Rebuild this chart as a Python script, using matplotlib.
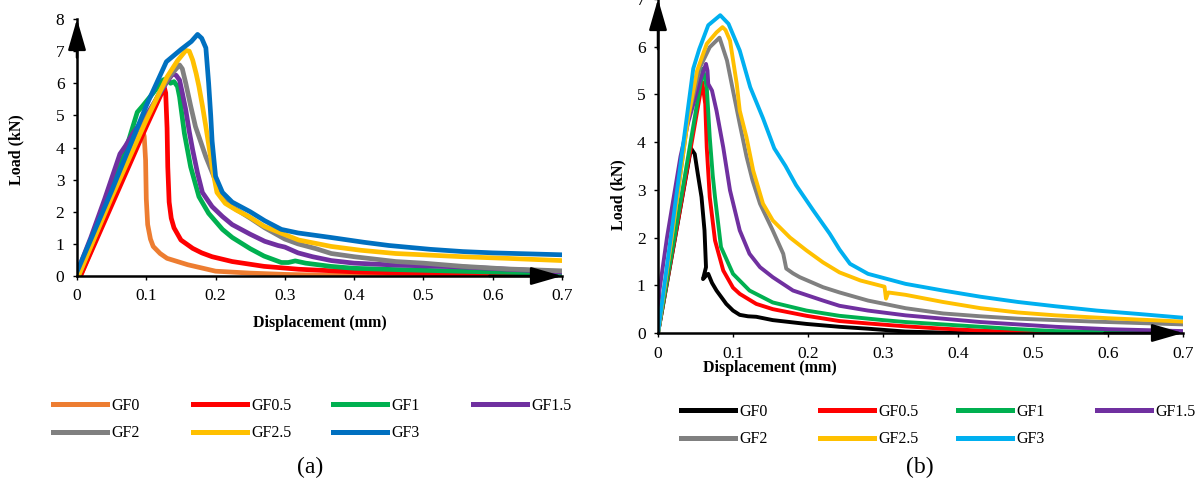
import numpy as np
import matplotlib
matplotlib.use("Agg")
import matplotlib.pyplot as plt
from matplotlib.lines import Line2D

plt.rcParams['font.family'] = ['Liberation Serif', 'DejaVu Serif']

#series names, same for both panels
labels = ['GF0', 'GF0.5', 'GF1', 'GF1.5', 'GF2', 'GF2.5', 'GF3']

#panel (a) colours, panel (b) uses black for GF0 and light blue for GF3
colors_a = ['#ED7D31', '#FF0000', '#00B050', '#7030A0', '#808080', '#FFC000', '#0070C0']
colors_b = ['#000000', '#FF0000', '#00B050', '#7030A0', '#808080', '#FFC000', '#00B0F0']

xticks = [0, 0.1, 0.2, 0.3, 0.4, 0.5, 0.6, 0.7]
xtick_labels = ['0', '0.1', '0.2', '0.3', '0.4', '0.5', '0.6', '0.7']

#---------------- panel (a): displacement (mm), load (kN) ----------------#
a_gf0_x = [0.005, 0.03, 0.06, 0.08, 0.094, 0.097, 0.099, 0.1, 0.102, 0.106, 0.11, 0.12, 0.13,
           0.145, 0.16, 0.18, 0.2, 0.25, 0.3, 0.35, 0.4, 0.5, 0.6, 0.7]
a_gf0_y = [0, 1.29, 2.84, 3.88, 4.6, 4.35, 3.6, 2.4, 1.6, 1.15, 0.92, 0.7, 0.55,
           0.45, 0.35, 0.25, 0.15, 0.09, 0.05, 0.03, 0.02, 0.01, 0.0, 0.0]

a_gf05_x = [0.005, 0.05, 0.1, 0.126, 0.128, 0.13, 0.131, 0.133, 0.136, 0.14, 0.15, 0.167, 0.18,
            0.195, 0.224, 0.27, 0.32, 0.37, 0.41, 0.46, 0.55, 0.65, 0.7]
a_gf05_y = [0, 2.2, 4.65, 5.87, 5.7, 4.6, 3.4, 2.3, 1.8, 1.5, 1.12, 0.86, 0.72,
            0.6, 0.45, 0.3, 0.21, 0.16, 0.12, 0.1, 0.06, 0.03, 0.02]

a_gf1_x = [0.002, 0.04, 0.07, 0.087, 0.095, 0.11, 0.124, 0.13, 0.135, 0.14, 0.145, 0.148, 0.155,
           0.164, 0.176, 0.19, 0.21, 0.224, 0.25, 0.27, 0.295, 0.305, 0.315, 0.33, 0.366, 0.4,
           0.46, 0.55, 0.65, 0.7]
a_gf1_y = [0, 2.1, 3.9, 5.1, 5.3, 5.7, 6.1, 6.15, 6.0, 6.05, 5.9, 5.58, 4.44,
           3.4, 2.47, 1.95, 1.45, 1.2, 0.85, 0.62, 0.42, 0.42, 0.47, 0.4, 0.3, 0.24,
           0.2, 0.15, 0.1, 0.07]

a_gf15_x = [0, 0.02, 0.04, 0.062, 0.07, 0.081, 0.1, 0.114, 0.13, 0.138, 0.143, 0.148, 0.152,
            0.157, 0.162, 0.167, 0.174, 0.181, 0.195, 0.21, 0.224, 0.25, 0.271, 0.29, 0.3,
            0.319, 0.34, 0.367, 0.4, 0.46, 0.557, 0.65, 0.7]
a_gf15_y = [0.1, 1.2, 2.4, 3.8, 4.05, 4.45, 5.0, 5.48, 6.05, 6.29, 6.25, 6.1, 5.7,
            5.17, 4.5, 3.92, 3.2, 2.6, 2.16, 1.85, 1.6, 1.3, 1.08, 0.95, 0.9,
            0.72, 0.6, 0.48, 0.4, 0.34, 0.28, 0.18, 0.12]

a_gf2_x = [0.002, 0.05, 0.1, 0.12, 0.135, 0.148, 0.152, 0.157, 0.164, 0.171, 0.186, 0.205,
           0.224, 0.25, 0.271, 0.3, 0.319, 0.345, 0.367, 0.4, 0.46, 0.5, 0.557, 0.62, 0.7]
a_gf2_y = [0, 2.5, 4.9, 5.75, 6.25, 6.57, 6.45, 6.0, 5.3, 4.65, 3.71, 2.7,
           2.15, 1.8, 1.5, 1.15, 1.0, 0.85, 0.7, 0.6, 0.45, 0.4, 0.3, 0.22, 0.16]

a_gf25_x = [0.002, 0.05, 0.1, 0.13, 0.145, 0.157, 0.162, 0.167, 0.172, 0.176, 0.181, 0.186,
            0.195, 0.202, 0.214, 0.23, 0.248, 0.27, 0.295, 0.32, 0.367, 0.41, 0.46, 0.557,
            0.62, 0.7]
a_gf25_y = [0, 2.45, 4.85, 6.2, 6.7, 7.02, 7.0, 6.72, 6.3, 5.9, 5.3, 4.65,
            3.4, 2.6, 2.26, 2.05, 1.85, 1.55, 1.33, 1.12, 0.92, 0.8, 0.7, 0.6,
            0.55, 0.48]

a_gf3_x = [0, 0.05, 0.1, 0.129, 0.15, 0.165, 0.174, 0.18, 0.186, 0.19, 0.193, 0.195, 0.2,
           0.21, 0.224, 0.25, 0.271, 0.295, 0.319, 0.366, 0.414, 0.45, 0.51, 0.557, 0.6, 0.7]
a_gf3_y = [0.13, 2.65, 5.3, 6.67, 7.05, 7.3, 7.52, 7.4, 7.1, 6.0, 5.0, 4.2, 3.1,
           2.6, 2.3, 2.0, 1.72, 1.45, 1.34, 1.2, 1.05, 0.95, 0.83, 0.76, 0.72, 0.66]

#---------------- panel (b) ----------------#
b_gf0_x = [0, 0.02, 0.044, 0.049, 0.053, 0.058, 0.062, 0.064, 0.06, 0.064, 0.067, 0.072, 0.078,
           0.091, 0.1, 0.109, 0.12, 0.131, 0.153, 0.198, 0.242, 0.28, 0.33, 0.4, 0.7]
b_gf0_y = [0, 1.75, 3.87, 3.75, 3.34, 2.85, 2.15, 1.38, 1.13, 1.2, 1.24, 1.05, 0.89,
           0.61, 0.47, 0.38, 0.35, 0.34, 0.27, 0.19, 0.13, 0.09, 0.03, 0.0, 0.0]

b_gf05_x = [0, 0.03, 0.059, 0.063, 0.065, 0.069, 0.076, 0.087, 0.1, 0.109, 0.131, 0.153, 0.198,
            0.242, 0.28, 0.33, 0.38, 0.43, 0.48, 0.55, 0.7]
b_gf05_y = [0, 2.65, 5.26, 4.8, 3.89, 2.85, 1.94, 1.31, 0.95, 0.82, 0.61, 0.5, 0.36,
            0.25, 0.2, 0.14, 0.09, 0.05, 0.02, 0.0, 0.0]

b_gf1_x = [0, 0.03, 0.06, 0.065, 0.069, 0.073, 0.076, 0.084, 0.1, 0.122, 0.153, 0.198, 0.242,
           0.3, 0.33, 0.38, 0.43, 0.48, 0.53, 0.6, 0.7]
b_gf1_y = [0, 2.75, 5.54, 5.15, 4.1, 3.3, 2.85, 1.8, 1.24, 0.89, 0.64, 0.47, 0.36,
           0.27, 0.23, 0.18, 0.13, 0.08, 0.04, 0.02, 0.01]

b_gf15_x = [0, 0.002, 0.012, 0.03, 0.04, 0.056, 0.064, 0.066, 0.067, 0.072, 0.078, 0.087, 0.096,
            0.109, 0.122, 0.136, 0.153, 0.18, 0.22, 0.242, 0.28, 0.33, 0.38, 0.43, 0.48,
            0.53, 0.6, 0.7]
b_gf15_y = [0, 0.9, 2.0, 3.7, 4.4, 5.29, 5.64, 5.5, 5.22, 5.08, 4.66, 3.89, 2.99,
            2.15, 1.66, 1.38, 1.17, 0.89, 0.68, 0.57, 0.47, 0.37, 0.3, 0.23, 0.18,
            0.13, 0.08, 0.04]

b_gf2_x = [0, 0.02, 0.04, 0.056, 0.069, 0.082, 0.086, 0.092, 0.1, 0.109, 0.118, 0.126, 0.136,
           0.153, 0.167, 0.171, 0.18, 0.189, 0.22, 0.242, 0.28, 0.33, 0.38, 0.43, 0.48, 0.58, 0.7]
b_gf2_y = [0, 2.2, 4.5, 5.57, 5.99, 6.19, 6.0, 5.71, 5.08, 4.38, 3.7, 3.2, 2.71,
           2.15, 1.66, 1.35, 1.25, 1.17, 0.96, 0.85, 0.68, 0.52, 0.41, 0.35, 0.3, 0.24, 0.18]

b_gf25_x = [0, 0.02, 0.04, 0.052, 0.065, 0.078, 0.086, 0.09, 0.096, 0.105, 0.109, 0.118, 0.127,
            0.14, 0.153, 0.176, 0.198, 0.22, 0.242, 0.27, 0.302, 0.304, 0.307, 0.33, 0.38,
            0.43, 0.48, 0.53, 0.6, 0.7]
b_gf25_y = [0, 2.2, 4.5, 5.49, 6.06, 6.3, 6.41, 6.35, 6.13, 5.22, 4.66, 4.1, 3.4,
            2.71, 2.36, 2.0, 1.73, 1.48, 1.27, 1.1, 0.97, 0.72, 0.85, 0.8, 0.65,
            0.52, 0.43, 0.37, 0.31, 0.24]

b_gf3_x = [0, 0.02, 0.047, 0.055, 0.067, 0.083, 0.094, 0.109, 0.123, 0.14, 0.155, 0.17, 0.184,
           0.207, 0.229, 0.242, 0.256, 0.28, 0.33, 0.38, 0.43, 0.48, 0.53, 0.585, 0.64, 0.7]
b_gf3_y = [0, 2.35, 5.54, 5.95, 6.45, 6.66, 6.48, 5.92, 5.15, 4.5, 3.87, 3.5, 3.1,
           2.57, 2.08, 1.75, 1.45, 1.24, 1.03, 0.89, 0.76, 0.65, 0.56, 0.47, 0.4, 0.32]

series_a = [(a_gf0_x, a_gf0_y), (a_gf05_x, a_gf05_y), (a_gf1_x, a_gf1_y), (a_gf15_x, a_gf15_y),
            (a_gf2_x, a_gf2_y), (a_gf25_x, a_gf25_y), (a_gf3_x, a_gf3_y)]
series_b = [(b_gf0_x, b_gf0_y), (b_gf05_x, b_gf05_y), (b_gf1_x, b_gf1_y), (b_gf15_x, b_gf15_y),
            (b_gf2_x, b_gf2_y), (b_gf25_x, b_gf25_y), (b_gf3_x, b_gf3_y)]


def style_axes(ax, ymax):
    ax.set_xlim(0, 0.7)
    ax.set_ylim(0, ymax)
    ax.set_xticks(xticks, labels=xtick_labels)
    ax.set_yticks(range(ymax + 1))
    ax.spines['top'].set_visible(False)
    ax.spines['right'].set_visible(False)
    for s in ['left', 'bottom']:
        ax.spines[s].set_linewidth(1.8)
    ax.tick_params(direction='out', length=3, width=1, labelsize=12.5, pad=6)
    # arrow heads at the axis ends
    arrow = dict(arrowstyle='-|>,head_length=1.9,head_width=0.55', color='black', lw=1.8,
                 shrinkA=0, shrinkB=0, mutation_scale=10)
    ax.annotate('', xy=(0, 1), xytext=(0, 0.85), xycoords='axes fraction',
                arrowprops=arrow, annotation_clip=False)
    ax.annotate('', xy=(1, 0), xytext=(0.85, 0), xycoords='axes fraction',
                arrowprops=arrow, annotation_clip=False)


def add_legend(fig, handles, col_x, row_y, fs):
    #one small legend per column so the columns sit at even spacing
    cols = [[0, 4], [1, 5], [2, 6], [3]]
    for cx, idx in zip(col_x, cols):
        fig.legend([handles[i] for i in idx], [labels[i] for i in idx],
                   loc='upper left', bbox_to_anchor=(cx / 1199, 1 - row_y / 492),
                   frameon=False, fontsize=fs, handlelength=3.4, handletextpad=0.25,
                   borderpad=0, borderaxespad=0, labelspacing=0.7)


fig = plt.figure(figsize=(11.99, 4.92), dpi=100)

# panel (a)
ax1 = fig.add_axes([77 / 1199, 216 / 492, 485 / 1199, 257 / 492])
for (x, y), c in zip(series_a, colors_a):
    ax1.plot(x, y, color=c, lw=3.4, solid_joinstyle='round')
style_axes(ax1, 8)
ax1.set_ylabel('Load (kN)', fontsize=11.5, fontweight='bold', va='center')
ax1.yaxis.set_label_coords(-0.124, 0.49)
ax1.set_xlabel('Displacement (mm)', fontsize=11.5, fontweight='bold', va='center')
ax1.xaxis.set_label_coords(0.5, -0.183)

# panel (b)
ax2 = fig.add_axes([658 / 1199, 159 / 492, 525 / 1199, 334 / 492])
for (x, y), c in zip(series_b, colors_b):
    ax2.plot(x, y, color=c, lw=2.8, solid_joinstyle='round')
style_axes(ax2, 7)
ax2.set_ylabel('Load (kN)', fontsize=11.5, fontweight='bold', va='center')
ax2.yaxis.set_label_coords(-0.076, 0.413)
ax2.set_xlabel('Displacement (mm)', fontsize=11.5, fontweight='bold', va='center')
ax2.xaxis.set_label_coords(0.213, -0.105)

# legends, drawn with thicker handles
lh_a = [Line2D([], [], color=c, lw=3.6) for c in colors_a]
lh_b = [Line2D([], [], color=c, lw=3.6) for c in colors_b]
add_legend(fig, lh_a, [53, 193, 333, 473], 398, 11.5)
add_legend(fig, lh_b, [681, 820, 958, 1097], 404, 11.5)

fig.text(310 / 1199, 1 - 467 / 492, '(a)', fontsize=17, ha='center', va='center')
fig.text(920 / 1199, 1 - 467 / 492, '(b)', fontsize=17, ha='center', va='center')

fig.savefig('out.png', dpi=100)
